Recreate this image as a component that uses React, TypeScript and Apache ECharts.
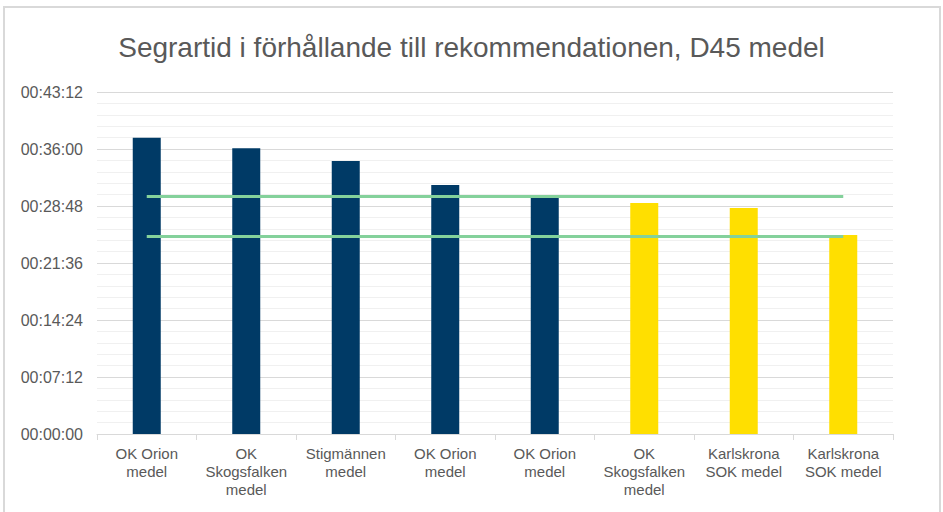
import React, { useEffect, useRef } from "react";
import * as echarts from "echarts";

const categories = [
  "OK Orion\nmedel",
  "OK\nSkogsfalken\nmedel",
  "Stigmännen\nmedel",
  "OK Orion\nmedel",
  "OK Orion\nmedel",
  "OK\nSkogsfalken\nmedel",
  "Karlskrona\nSOK medel",
  "Karlskrona\nSOK medel",
];
// winner times in seconds
const winnerSeconds = [2245, 2165, 2069, 1887, 1791, 1751, 1713, 1508];
// 0 = first group (navy), 1 = second group (yellow)
const clubGroup = [0, 0, 0, 0, 0, 1, 1, 1];
// recommended times (seconds): 30:00 and 25:00
const recommendations = [1800, 1500];
const yTickSeconds = [0, 432, 864, 1296, 1728, 2160, 2592];

const groupColors = ["#003A66", "#FFDF00"];
const textColor = "#595959";

function fmt(sec: number): string {
  const h = Math.floor(sec / 3600);
  const m = Math.floor((sec % 3600) / 60);
  const s = Math.round(sec % 60);
  const p = (n: number) => String(n).padStart(2, "0");
  return `${p(h)}:${p(m)}:${p(s)}`;
}

export default function App() {
  const ref = useRef<HTMLDivElement>(null);
  useEffect(() => {
    if (!ref.current) return;
    const chart = echarts.init(ref.current, undefined, { renderer: "svg" });
    const font = "Liberation Sans, Arial, sans-serif";
    chart.setOption({
      animation: false,
      backgroundColor: "#ffffff",
      textStyle: { fontFamily: font },
      title: {
        text: "Segrartid i förhållande till rekommendationen, D45 medel",
        left: "center",
        top: 28,
        textStyle: {
          fontFamily: font,
          fontSize: 28,
          fontWeight: "normal",
          color: textColor,
        },
      },
      graphic: [
        {
          type: "rect",
          shape: { x: 4, y: 7, width: 936, height: 510 },
          style: { fill: "none", stroke: "#d9d9d9", lineWidth: 2 },
          silent: true,
        },
      ],
      grid: { left: 97, right: 50, top: 92, bottom: 78, containLabel: false },
      xAxis: {
        type: "category",
        data: categories,
        axisLine: { lineStyle: { color: "#d9d9d9", width: 1 } },
        axisTick: { show: true, length: 6, lineStyle: { color: "#d9d9d9" } },
        axisLabel: {
          color: textColor,
          fontSize: 15,
          lineHeight: 18,
          margin: 10,
          interval: 0,
          fontFamily: font,
        },
      },
      yAxis: {
        type: "value",
        min: yTickSeconds[0],
        max: yTickSeconds[yTickSeconds.length - 1],
        interval: yTickSeconds[1] - yTickSeconds[0],
        axisLine: { show: false },
        axisTick: { show: false },
        axisLabel: {
          color: textColor,
          fontSize: 16,
          margin: 14,
          fontFamily: font,
          formatter: (v: number) => fmt(v),
        },
        splitLine: { show: true, lineStyle: { color: "#d9d9d9", width: 1 } },
        minorTick: { show: false, splitNumber: 5 },
        minorSplitLine: { show: true, lineStyle: { color: "#f0f0f0", width: 1 } },
      },
      series: [
        {
          type: "bar",
          barWidth: 28,
          data: winnerSeconds.map((v, i) => ({
            value: v,
            itemStyle: { color: groupColors[clubGroup[i]] },
          })),
          markLine: {
            silent: true,
            symbol: "none",
            label: { show: false },
            lineStyle: { color: "#84D19B", width: 3, type: "solid" },
            data: recommendations.map((r) => [
              { xAxis: 0, yAxis: r },
              { xAxis: categories.length - 1, yAxis: r },
            ]),
          },
        },
      ],
    });
    return () => chart.dispose();
  }, []);
  return (
    <div
      ref={ref}
      style={{ position: "absolute", left: 0, top: 0, width: 943, height: 512 }}
    />
  );
}
